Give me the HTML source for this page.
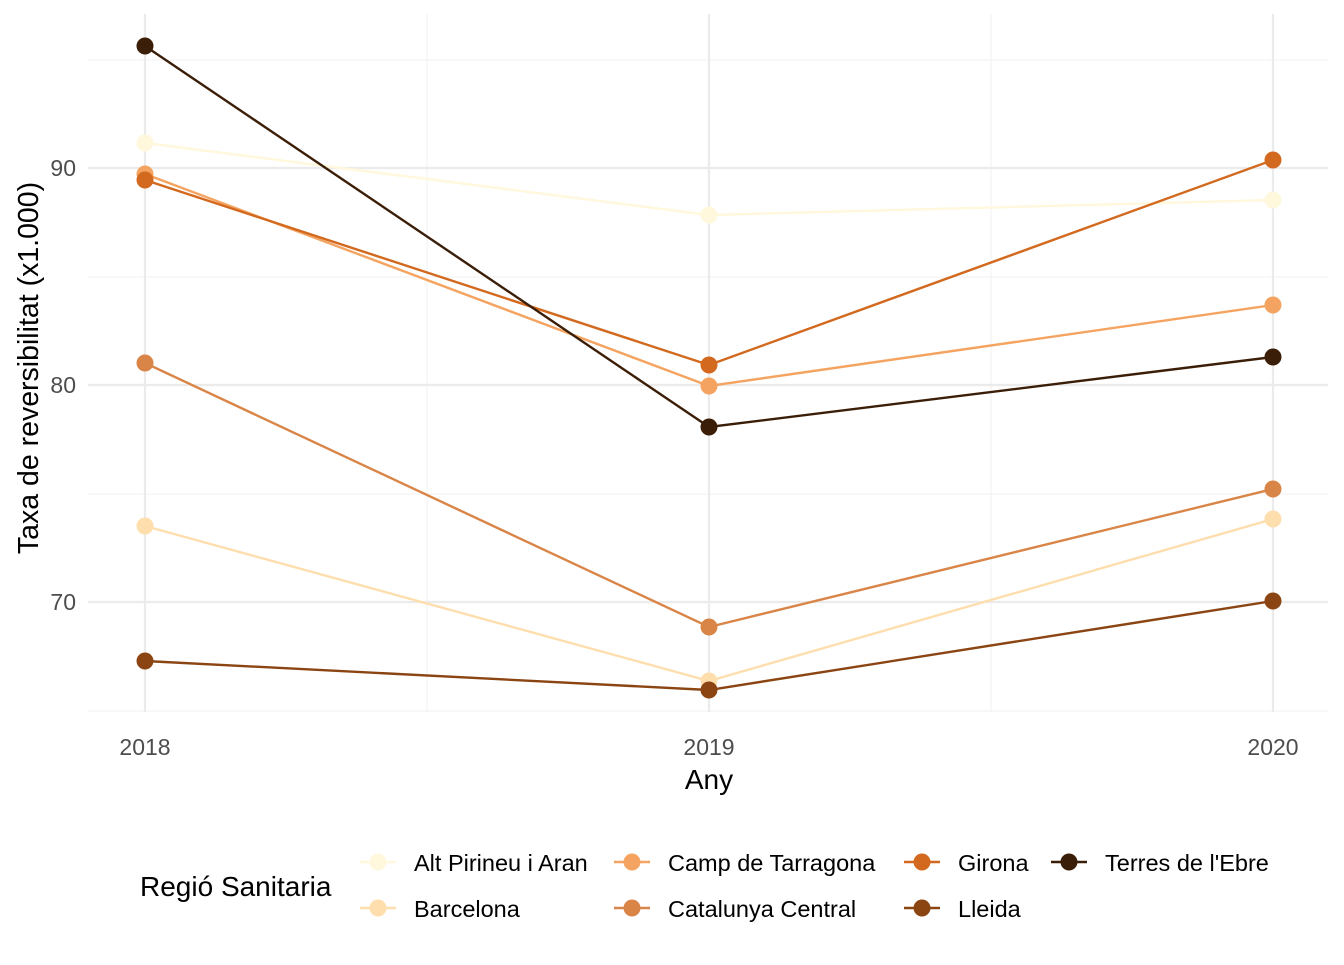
<!DOCTYPE html><html><head><style>body{margin:0;background:#fff}text{font-family:"Liberation Sans",Arial,sans-serif}</style></head><body>
<svg width="1344" height="960" xmlns="http://www.w3.org/2000/svg">
<g stroke="#f2f2f2" stroke-width="1.1">
<line x1="88" x2="1328" y1="60" y2="60"/><line x1="88" x2="1328" y1="277" y2="277"/><line x1="88" x2="1328" y1="494" y2="494"/><line x1="88" x2="1328" y1="711" y2="711"/>
<line x1="427" x2="427" y1="14" y2="712"/><line x1="991" x2="991" y1="14" y2="712"/></g>
<g stroke="#ebebeb" stroke-width="2.2">
<line x1="88" x2="1328" y1="168" y2="168"/><line x1="88" x2="1328" y1="385" y2="385"/><line x1="88" x2="1328" y1="602" y2="602"/>
<line x1="145" x2="145" y1="14" y2="712"/><line x1="709" x2="709" y1="14" y2="712"/><line x1="1273" x2="1273" y1="14" y2="712"/></g>
<g font-size="23" fill="#4d4d4d"><text x="76" y="176" text-anchor="end">90</text><text x="76" y="393" text-anchor="end">80</text><text x="76" y="610" text-anchor="end">70</text>
<text x="145" y="755" text-anchor="middle">2018</text><text x="709" y="755" text-anchor="middle">2019</text><text x="1273" y="755" text-anchor="middle">2020</text></g>
<text x="709" y="789" font-size="28" text-anchor="middle">Any</text>
<text transform="translate(38,368) rotate(-90)" font-size="28.5" text-anchor="middle">Taxa de reversibilitat (x1.000)</text>
<g stroke-width="2.4" fill="none">
<polyline stroke="#FFF8DC" points="145,143 709,215 1273,200"/>
<polyline stroke="#FFDEAD" points="145,526 709,681 1273,519"/>
<polyline stroke="#F4A460" points="145,174 709,386 1273,305"/>
<polyline stroke="#DA8548" points="145,363 709,627 1273,489"/>
<polyline stroke="#D2691E" points="145,180 709,365 1273,160"/>
<polyline stroke="#8B4513" points="145,661 709,690 1273,601"/>
<polyline stroke="#3B1E08" points="145,46 709,427 1273,357"/></g>
<g>
<g fill="#FFF8DC"><circle cx="145" cy="143" r="8.5"/><circle cx="709" cy="215" r="8.5"/><circle cx="1273" cy="200" r="8.5"/></g>
<g fill="#FFDEAD"><circle cx="145" cy="526" r="8.5"/><circle cx="709" cy="681" r="8.5"/><circle cx="1273" cy="519" r="8.5"/></g>
<g fill="#F4A460"><circle cx="145" cy="174" r="8.5"/><circle cx="709" cy="386" r="8.5"/><circle cx="1273" cy="305" r="8.5"/></g>
<g fill="#DA8548"><circle cx="145" cy="363" r="8.5"/><circle cx="709" cy="627" r="8.5"/><circle cx="1273" cy="489" r="8.5"/></g>
<g fill="#D2691E"><circle cx="145" cy="180" r="8.5"/><circle cx="709" cy="365" r="8.5"/><circle cx="1273" cy="160" r="8.5"/></g>
<g fill="#8B4513"><circle cx="145" cy="661" r="8.5"/><circle cx="709" cy="690" r="8.5"/><circle cx="1273" cy="601" r="8.5"/></g>
<g fill="#3B1E08"><circle cx="145" cy="46" r="8.5"/><circle cx="709" cy="427" r="8.5"/><circle cx="1273" cy="357" r="8.5"/></g></g>
<text x="140" y="896" font-size="28">Regió Sanitaria</text>
<g font-size="23.5">
<g stroke-width="2.4">
<line x1="360" x2="396" y1="862" y2="862" stroke="#FFF8DC"/><circle cx="378" cy="862" r="8.5" fill="#FFF8DC"/>
<line x1="360" x2="396" y1="908" y2="908" stroke="#FFDEAD"/><circle cx="378" cy="908" r="8.5" fill="#FFDEAD"/>
<line x1="614" x2="650" y1="862" y2="862" stroke="#F4A460"/><circle cx="632" cy="862" r="8.5" fill="#F4A460"/>
<line x1="614" x2="650" y1="908" y2="908" stroke="#DA8548"/><circle cx="632" cy="908" r="8.5" fill="#DA8548"/>
<line x1="904" x2="940" y1="862" y2="862" stroke="#D2691E"/><circle cx="922" cy="862" r="8.5" fill="#D2691E"/>
<line x1="904" x2="940" y1="908" y2="908" stroke="#8B4513"/><circle cx="922" cy="908" r="8.5" fill="#8B4513"/>
<line x1="1051" x2="1087" y1="862" y2="862" stroke="#3B1E08"/><circle cx="1069" cy="862" r="8.5" fill="#3B1E08"/></g>
<text x="414" y="871">Alt Pirineu i Aran</text><text x="414" y="917">Barcelona</text>
<text x="668" y="871">Camp de Tarragona</text><text x="668" y="917">Catalunya Central</text>
<text x="958" y="871">Girona</text><text x="958" y="917">Lleida</text>
<text x="1105" y="871">Terres de l'Ebre</text></g>
</svg></body></html>
